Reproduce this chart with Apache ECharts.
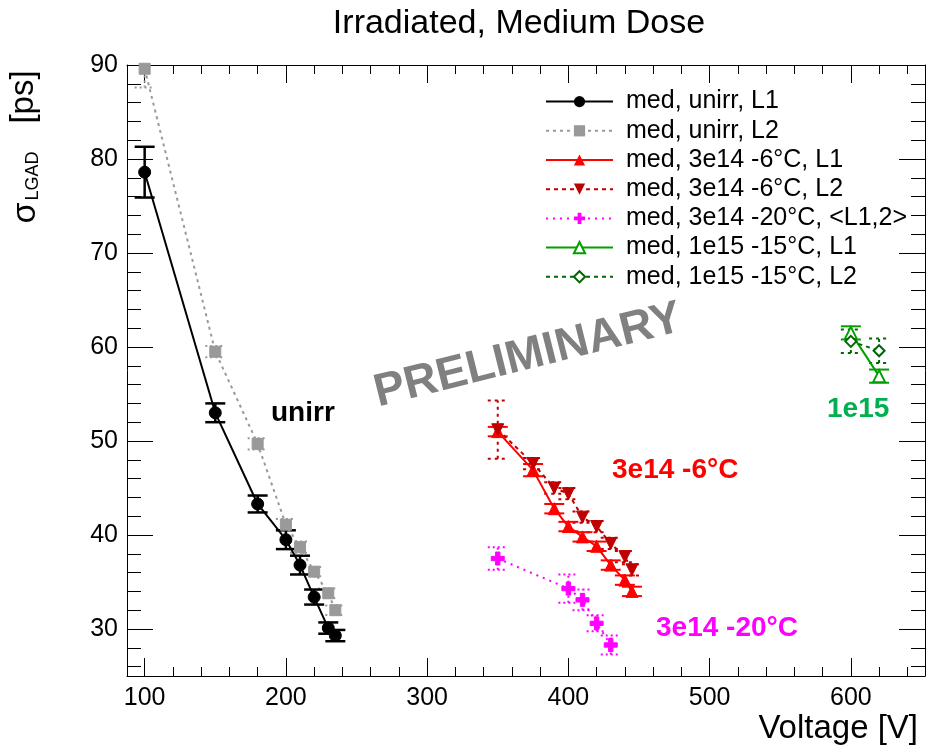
<!DOCTYPE html>
<html>
<head>
<meta charset="utf-8">
<title>Irradiated, Medium Dose</title>
<script src="https://cdn.jsdelivr.net/npm/echarts@6/dist/echarts.min.js"></script>
<style>
  html, body { margin: 0; padding: 0; background: #fff; }
  #chart { width: 926px; height: 747px; }
</style>
</head>
<body>
<div id="chart"></div>
<script>
// tick positions
const xMajor = [100, 200, 300, 400, 500, 600]
const xMinor = [100, 120, 140, 160, 180, 200, 220, 240, 260, 280, 300, 320, 340, 360, 380, 400, 420, 440, 460, 480, 500, 520, 540, 560, 580, 600, 620, 640]
const yMajor = [30, 40, 50, 60, 70, 80, 90]
const yMinor = [26, 28, 30, 32, 34, 36, 38, 40, 42, 44, 46, 48, 50, 52, 54, 56, 58, 60, 62, 64, 66, 68, 70, 72, 74, 76, 78, 80, 82, 84, 86, 88]

// unirradiated
const unirrVolts = [100, 150, 180, 200, 210, 220, 230, 235]
const unirrL1 = [78.6, 53.0, 43.3, 39.5, 36.8, 33.4, 30.1, 29.3]
const unirrL1Err = [2.7, 1.0, 0.9, 1.0, 1.0, 0.8, 0.6, 0.6]
const unirrL2 = [89.6, 59.5, 49.7, 41.1, 38.7, 36.1, 33.8, 32.0]
const unirrL2Err = [2.0, 0.6, 0.6, 0.6, 0.6, 0.5, 0.5, 0.5]

// 3e14, -6 C
const m6Volts = [350, 375, 390, 400, 410, 420, 430, 440, 445]
const m6L1 = [51.0, 46.9, 42.8, 40.9, 39.8, 38.8, 36.8, 35.2, 34.0]
const m6L1Err = [0.5, 0.65, 0.5, 0.5, 0.5, 0.5, 0.5, 0.5, 0.5]
const m6L2 = [51.2, 47.6, 45.0, 44.4, 41.9, 40.9, 39.1, 37.7, 36.3]
const m6L2Err = [3.1, 0.6, 0.6, 0.6, 0.6, 0.6, 0.6, 0.6, 0.6]

// 3e14, -20 C, average of L1 and L2
const m20Volts = [350, 400, 410, 420, 430]
const m20Avg = [37.5, 34.3, 33.1, 30.6, 28.3]
const m20Err = [1.2, 1.5, 1.1, 0.85, 1.0]

// 1e15, -15 C
const e15Volts = [600, 620]
const e15L1 = [61.5, 56.9]
const e15L1Err = [0.7, 0.7]
const e15L2 = [60.6, 59.6]
const e15L2Err = [1.25, 1.3]

const FONT = 'Liberation Sans'
const names = [
  'med, unirr, L1',
  'med, unirr, L2',
  'med, 3e14 -6°C, L1',
  'med, 3e14 -6°C, L2',
  'med, 3e14 -20°C, <L1,2>',
  'med, 1e15 -15°C, L1',
  'med, 1e15 -15°C, L2'
]

const pairs = (xs, ys) => xs.map((x, i) => [x, ys[i]])

function errorBars(volts, vals, errs, color, width, dash) {
  return {
    type: 'custom',
    clip: true,
    silent: true,
    z: 2,
    data: volts.map((v, i) => [v, vals[i] - errs[i], vals[i] + errs[i]]),
    renderItem(params, api) {
      const lo = api.coord([api.value(0), api.value(1)])
      const hi = api.coord([api.value(0), api.value(2)])
      const style = { stroke: color, lineWidth: width, lineDash: dash }
      return {
        type: 'group',
        children: [
          { type: 'line', shape: { x1: lo[0], y1: lo[1], x2: hi[0], y2: hi[1] }, style },
          { type: 'line', shape: { x1: lo[0] - 10, y1: lo[1], x2: lo[0] + 10, y2: lo[1] }, style },
          { type: 'line', shape: { x1: hi[0] - 10, y1: hi[1], x2: hi[0] + 10, y2: hi[1] }, style }
        ]
      }
    }
  }
}

function curve(name, volts, vals, color, symbol, size, lineType) {
  return {
    type: 'line',
    name,
    data: pairs(volts, vals),
    symbol,
    symbolSize: size,
    z: 3,
    itemStyle: { color, borderColor: color },
    lineStyle: { color, width: 2, type: lineType }
  }
}

function xAxis(position, values, len, line) {
  return {
    type: 'value', position, min: 87.5, max: 652.5,
    axisLine: { show: line, onZero: false, lineStyle: { color: '#000', width: 1 } },
    axisTick: { show: true, inside: true, length: len, customValues: values, lineStyle: { color: '#000', width: 1 } },
    axisLabel: { show: false },
    splitLine: { show: false }
  }
}

function yAxis(position, values, len, line) {
  return {
    type: 'value', position, min: 25, max: 90,
    axisLine: { show: line, onZero: false, lineStyle: { color: '#000', width: 1 } },
    axisTick: { show: true, inside: true, length: len, customValues: values, lineStyle: { color: '#000', width: 1 } },
    axisLabel: { show: false },
    splitLine: { show: false }
  }
}

const xBottom = xAxis('bottom', xMajor, 18, true)
xBottom.axisLabel = { show: true, customValues: xMajor, fontSize: 25, fontFamily: FONT, color: '#000', margin: 10 }
const yLeft = yAxis('left', yMajor, 26, true)
yLeft.axisLabel = { show: true, customValues: yMajor, fontSize: 25, fontFamily: FONT, color: '#000', margin: 9 }

const chart = echarts.init(document.getElementById('chart'))
chart.setOption({
  animation: false,
  backgroundColor: '#fff',
  grid: { left: 127, right: 1, top: 65, bottom: 71 },
  xAxis: [
    xBottom,
    xAxis('bottom', xMinor, 9, false),
    xAxis('top', xMajor, 18, true),
    xAxis('top', xMinor, 9, false)
  ],
  yAxis: [
    yLeft,
    yAxis('left', yMinor, 14, false),
    yAxis('right', yMajor, 26, true),
    yAxis('right', yMinor, 14, false)
  ],
  legend: {
    orient: 'vertical',
    left: 545,
    top: 87,
    padding: 0,
    itemWidth: 67,
    itemHeight: 14,
    itemGap: 0,
    selectedMode: false,
    data: names,
    textStyle: { fontSize: 25, fontFamily: FONT, color: '#000', lineHeight: 29.2, padding: [0, 0, 0, 8] }
  },
  series: [
    errorBars(unirrVolts, unirrL2, unirrL2Err, '#999', 2, [2, 3]),
    errorBars(unirrVolts, unirrL1, unirrL1Err, '#000', 2.5, null),
    errorBars(m6Volts, m6L2, m6L2Err, '#c00000', 2, [3, 4]),
    errorBars(m6Volts, m6L1, m6L1Err, '#ff0000', 2, null),
    errorBars(m20Volts, m20Avg, m20Err, '#ff00ff', 2, [2, 3]),
    errorBars(e15Volts, e15L2, e15L2Err, '#006600', 2, [3, 4]),
    errorBars(e15Volts, e15L1, e15L1Err, '#00a000', 2, null),
    curve(names[0], unirrVolts, unirrL1, '#000', 'circle', 12, 'solid'),
    curve(names[1], unirrVolts, unirrL2, '#999', 'rect', 11, [3, 4]),
    curve(names[2], m6Volts, m6L1, '#ff0000', 'triangle', 12, 'solid'),
    curve(names[3], m6Volts, m6L2, '#c00000', 'path://M0,0L10,0L5,9Z', 12, [4, 4]),
    curve(names[4], m20Volts, m20Avg, '#ff00ff', 'path://M4,0h4v4h4v4h-4v4h-4v-4h-4v-4h4z', 13, [2, 5]),
    curve(names[5], e15Volts, e15L1, '#00a000', 'emptyTriangle', 12, 'solid'),
    curve(names[6], e15Volts, e15L2, '#006600', 'emptyDiamond', 11, [4, 4])
  ],
  graphic: [
    { type: 'text', x: 519, y: 24, style: { text: 'Irradiated, Medium Dose', font: `34px "${FONT}"`, fill: '#000', align: 'center', verticalAlign: 'middle' } },
    { type: 'text', x: 918, y: 729, style: { text: 'Voltage [V]', font: `33px "${FONT}"`, fill: '#000', align: 'right', verticalAlign: 'middle' } },
    { type: 'text', x: 26, y: 213, rotation: Math.PI / 2, style: { text: 'σ', font: `34px "${FONT}"`, fill: '#000', align: 'center', verticalAlign: 'middle' } },
    { type: 'text', x: 33, y: 176, rotation: Math.PI / 2, style: { text: 'LGAD', font: `18px "${FONT}"`, fill: '#000', align: 'center', verticalAlign: 'middle' } },
    { type: 'text', x: 24, y: 97, rotation: Math.PI / 2, style: { text: '[ps]', font: `33px "${FONT}"`, fill: '#000', align: 'center', verticalAlign: 'middle' } },
    { type: 'text', x: 528, y: 356, rotation: 0.245, z: 1, style: { text: 'PRELIMINARY', font: `bold 46px "${FONT}"`, fill: '#808080', align: 'center', verticalAlign: 'middle' } },
    { type: 'text', x: 271, y: 413, style: { text: 'unirr', font: `bold 28px "${FONT}"`, fill: '#000', align: 'left', verticalAlign: 'middle' } },
    { type: 'text', x: 612, y: 470, style: { text: '3e14 -6°C', font: `bold 28px "${FONT}"`, fill: '#ff0000', align: 'left', verticalAlign: 'middle' } },
    { type: 'text', x: 656, y: 628, style: { text: '3e14 -20°C', font: `bold 28px "${FONT}"`, fill: '#ff00ff', align: 'left', verticalAlign: 'middle' } },
    { type: 'text', x: 827, y: 409, style: { text: '1e15', font: `bold 28px "${FONT}"`, fill: '#00b050', align: 'left', verticalAlign: 'middle' } }
  ]
})
</script>
</body>
</html>
